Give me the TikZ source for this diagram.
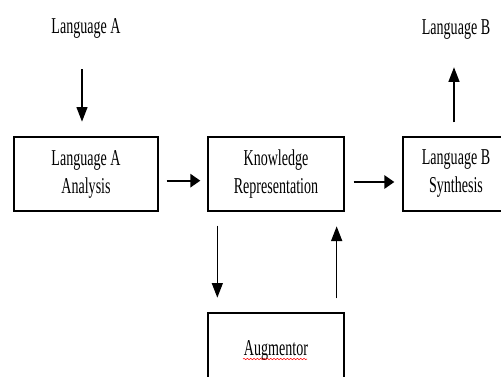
\documentclass[tikz,border=0pt]{standalone}
\usepackage{fontspec}
\setmainfont{Liberation Serif}[FakeStretch=0.62]
\usetikzlibrary{positioning,arrows.meta,decorations.pathmorphing}
\tikzset{txt/.style = {font=\fontsize{17}{21}\selectfont},
         block/.style = {txt,draw,line width=1pt,minimum height=55.5pt,align=center},
         varr/.style = {line width=1pt,-{Triangle[length=11pt,width=8.25pt]}},
         harr/.style = {line width=1.5pt,-{Triangle[length=7.5pt,width=10pt]}}}

\begin{document}
\begin{tikzpicture}[x=0.75pt,y=-0.75pt]
        \clip (0,0) rectangle (501,376);
        \fill [white] (0,0) rectangle (501,376);

        \node [txt] (inA) at (86,28) {Language A};
        \node [txt] (outB) at (456,30) {Language B};

        \node [block,minimum width=108pt] (anA) at (86,174) {Language A\\Analysis};
        \node [block,minimum width=102pt] (kr) at (276,174) {Knowledge\\Representation};
        \node [block,minimum width=79.5pt] (synB) at (456,174) {Language B\\Synthesis};
        \node [block,minimum width=102pt] (aug) at (276,350) {Augmentor};

        \draw [varr,shorten <=20pt,shorten >=11pt] ([xshift=-3pt]inA.south) -- ([xshift=-3pt]anA.north);
        \draw [harr,shorten <=6pt,shorten >=5.25pt] ([yshift=-5pt]anA.east) -- ([yshift=-5pt]kr.west);
        \draw [harr,shorten <=6.75pt,shorten >=6pt] ([yshift=-6pt]kr.east) -- ([yshift=-6pt]synB.west);
        \draw [varr,shorten <=10.5pt,shorten >=17pt] ([xshift=-1.5pt]synB.north) -- ([xshift=-1.5pt]outB.south);
        \draw [varr,shorten <=10.5pt,shorten >=11pt] ([xshift=7.5pt]kr.south west) -- ([xshift=7.5pt]aug.north west);
        \draw [varr,shorten <=10.5pt,shorten >=11pt] ([xshift=-6pt]aug.north east) -- ([xshift=-6pt]kr.south east);

        \draw [red,line width=0.4pt,decorate,decoration={snake,amplitude=0.5pt,segment length=2.5pt}] ([shift={(-33,9)}]aug.center) -- ([shift={(31,9)}]aug.center);
    \end{tikzpicture}
\end{document}
